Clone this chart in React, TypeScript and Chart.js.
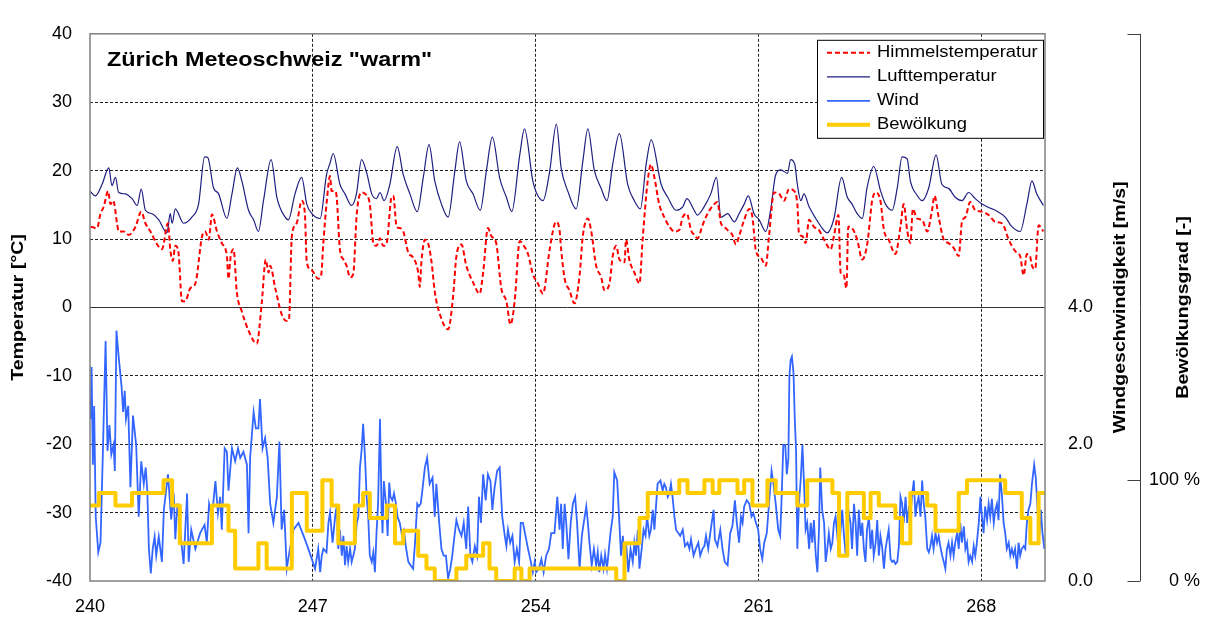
import React, { useEffect, useRef } from "react";
import { Chart, registerables } from "chart.js";

Chart.register(...registerables);

const FONT = "'Liberation Sans', Arial, Helvetica, sans-serif";

const CHART_TITLE = 'Zürich Meteoschweiz "warm"';
const TEMP_AXIS_TITLE = "Temperatur [°C]";
const WIND_AXIS_TITLE = "Windgeschwindigkeit [m/s]";
const CLOUD_AXIS_TITLE = "Bewölkungsgrad [-]";
const SERIES_LABELS = ["Himmelstemperatur", "Lufttemperatur", "Wind", "Bewölkung"];

const X_TICKS = [240, 247, 254, 261, 268];
const TEMP_TICKS = [-40, -30, -20, -10, 0, 10, 20, 30, 40];
const WIND_TICKS = [0, 2, 4];
const CLOUD_TICKS = [0, 100];

// [day of year, °C]
const SKY_TEMP: [number, number][] = [
  [240.02, 11.8], [240.22, 11.6], [240.33, 13.7], [240.43, 14.7], [240.57, 17.0], [240.64, 15.1], [240.73, 15.6], [240.85, 12.3],
  [240.9, 11.1], [241.06, 11.1], [241.22, 10.6], [241.43, 11.8], [241.61, 14.0], [241.74, 12.3], [241.9, 11.1], [242.11, 9.2],
  [242.26, 8.5], [242.45, 12.3], [242.52, 8.5], [242.6, 6.8], [242.68, 9.0], [242.78, 8.0], [242.89, 0.9], [242.99, 0.9],
  [243.15, 2.8], [243.31, 3.5], [243.52, 10.4], [243.62, 11.1], [243.73, 9.9], [243.83, 13.6], [243.99, 11.1], [244.14, 9.4],
  [244.3, 7.5], [244.35, 4.2], [244.42, 7.5], [244.51, 8.5], [244.61, 2.3], [244.77, -0.6], [244.98, -3.4], [245.24, -5.3],
  [245.4, 0.9], [245.52, 7.0], [245.61, 5.1], [245.66, 6.1], [245.82, 2.8], [246.02, -1.0], [246.18, -2.0], [246.25, -1.8],
  [246.34, 10.4], [246.49, 12.3], [246.65, 15.6], [246.75, 13.7], [246.81, 6.6], [246.97, 5.4], [247.17, 4.2], [247.26, 4.7],
  [247.33, 9.4], [247.44, 15.6], [247.54, 19.2], [247.59, 17.0], [247.7, 17.0], [247.75, 16.1], [247.85, 8.5], [247.96, 7.0],
  [248.06, 6.1], [248.17, 4.4], [248.27, 4.9], [248.38, 13.7], [248.53, 16.8], [248.64, 16.6], [248.79, 15.1], [248.9, 9.4],
  [249.0, 9.0], [249.11, 10.1], [249.21, 9.0], [249.32, 9.4], [249.47, 16.1], [249.53, 16.3], [249.63, 11.8], [249.73, 11.6],
  [249.84, 11.1], [250.0, 8.0], [250.15, 7.3], [250.31, 5.1], [250.36, 3.0], [250.41, 6.6], [250.52, 9.9], [250.62, 9.4],
  [250.73, 6.6], [250.83, 2.3], [250.99, -1.0], [251.25, -3.2], [251.41, 1.8], [251.51, 7.5], [251.67, 9.2], [251.82, 6.1],
  [252.03, 3.7], [252.24, 2.0], [252.35, 5.1], [252.5, 11.6], [252.61, 10.4], [252.76, 9.4], [252.92, 2.8], [253.08, 0.9],
  [253.21, -2.5], [253.34, 0.9], [253.5, 9.7], [253.6, 9.2], [253.76, 7.8], [253.91, 4.9], [254.07, 3.5], [254.23, 2.0],
  [254.44, 8.5], [254.64, 12.5], [254.75, 11.3], [254.8, 8.5], [254.91, 4.2], [255.06, 2.5], [255.22, 0.6], [255.38, 4.7],
  [255.48, 10.4], [255.64, 13.0], [255.74, 11.3], [255.9, 6.1], [256.06, 4.4], [256.16, 2.5], [256.32, 3.5], [256.42, 7.5],
  [256.53, 9.0], [256.63, 7.0], [256.79, 6.6], [256.84, 9.9], [256.94, 7.0], [257.1, 5.1], [257.26, 3.5], [257.36, 9.9],
  [257.52, 18.5], [257.62, 20.9], [257.73, 19.0], [257.88, 15.1], [258.04, 13.2], [258.2, 11.8], [258.36, 11.1], [258.51, 11.3],
  [258.62, 13.2], [258.75, 13.7], [258.88, 11.3], [258.98, 10.6], [259.09, 10.1], [259.24, 12.0], [259.4, 13.7], [259.61, 15.1],
  [259.71, 15.4], [259.82, 12.3], [259.92, 11.8], [260.03, 11.3], [260.18, 10.6], [260.29, 9.2], [260.39, 10.4], [260.55, 12.8],
  [260.71, 14.4], [260.81, 13.2], [260.92, 8.2], [261.07, 7.3], [261.23, 6.1], [261.33, 10.4], [261.49, 16.8], [261.65, 16.6],
  [261.8, 15.6], [261.96, 17.3], [262.12, 17.0], [262.22, 15.1], [262.27, 10.9], [262.38, 10.4], [262.48, 9.4], [262.59, 12.8],
  [262.74, 11.8], [262.9, 11.3], [263.06, 9.9], [263.27, 8.5], [263.37, 10.4], [263.51, 13.5], [263.58, 5.1], [263.68, 4.7],
  [263.76, 2.8], [263.82, 11.8], [263.94, 11.6], [264.1, 9.9], [264.26, 7.0], [264.42, 9.4], [264.57, 15.6], [264.68, 16.8],
  [264.83, 15.6], [264.94, 11.3], [265.09, 9.9], [265.3, 7.8], [265.46, 11.8], [265.56, 15.1], [265.67, 11.3], [265.77, 9.4],
  [265.85, 14.4], [265.98, 13.0], [266.14, 12.8], [266.3, 11.1], [266.45, 14.2], [266.53, 16.3], [266.66, 13.2], [266.82, 9.9],
  [266.97, 9.4], [267.13, 8.7], [267.29, 7.5], [267.39, 12.5], [267.5, 13.2], [267.65, 15.4], [267.81, 14.2], [268.02, 14.0],
  [268.23, 13.5], [268.44, 12.5], [268.65, 12.3], [268.86, 9.9], [269.07, 8.2], [269.22, 7.5], [269.33, 4.7], [269.43, 7.8],
  [269.53, 7.5], [269.59, 6.1], [269.69, 5.6], [269.8, 12.0], [269.95, 11.1],
];

// [day of year, °C]
const AIR_TEMP: [number, number][] = [
  [240.0, 17.0], [240.17, 16.3], [240.38, 18.0], [240.59, 20.4], [240.69, 17.8], [240.8, 19.0], [240.9, 16.8], [241.11, 16.6],
  [241.32, 15.9], [241.48, 14.9], [241.61, 17.3], [241.74, 14.2], [241.95, 13.7], [242.16, 12.8], [242.42, 10.9], [242.52, 13.7],
  [242.58, 12.3], [242.68, 14.4], [242.94, 12.3], [243.2, 13.2], [243.41, 15.1], [243.6, 22.0], [243.7, 21.9], [243.88, 17.5],
  [244.04, 16.6], [244.3, 13.0], [244.46, 16.6], [244.63, 20.4], [244.77, 18.5], [244.98, 14.2], [245.14, 12.8], [245.29, 11.1],
  [245.45, 15.6], [245.69, 21.6], [245.87, 16.1], [246.13, 13.2], [246.23, 12.8], [246.44, 16.6], [246.65, 19.0], [246.81, 15.1],
  [246.97, 13.7], [247.23, 13.0], [247.43, 19.4], [247.54, 21.1], [247.64, 22.5], [247.85, 18.0], [248.01, 16.6], [248.22, 14.9],
  [248.37, 16.6], [248.53, 21.6], [248.69, 19.7], [248.85, 16.6], [249.0, 15.9], [249.11, 16.8], [249.24, 15.6], [249.42, 18.0],
  [249.65, 23.5], [249.84, 19.4], [250.05, 16.6], [250.28, 14.0], [250.47, 19.0], [250.65, 23.8], [250.83, 18.5], [251.04, 15.1],
  [251.25, 13.2], [251.46, 19.9], [251.61, 24.2], [251.82, 18.5], [252.03, 16.6], [252.26, 14.2], [252.45, 19.9], [252.64, 24.9],
  [252.87, 18.9], [253.08, 16.1], [253.25, 14.0], [253.5, 22.3], [253.65, 26.1], [253.91, 18.5], [254.02, 16.8], [254.23, 15.6],
  [254.44, 19.9], [254.65, 26.8], [254.8, 20.4], [255.01, 17.0], [255.27, 14.4], [255.48, 21.3], [255.64, 26.1], [255.84, 20.1],
  [256.05, 17.5], [256.24, 15.6], [256.42, 20.9], [256.63, 25.4], [256.89, 18.0], [257.1, 15.6], [257.29, 14.4], [257.47, 20.9],
  [257.63, 24.5], [257.94, 18.0], [258.15, 16.1], [258.41, 14.2], [258.62, 14.7], [258.75, 15.9], [258.98, 14.2], [259.08, 13.5],
  [259.29, 14.7], [259.5, 16.6], [259.68, 19.0], [259.82, 13.2], [260.03, 13.7], [260.24, 12.5], [260.39, 13.7], [260.55, 15.1],
  [260.68, 16.3], [260.86, 13.7], [261.02, 12.8], [261.23, 11.1], [261.38, 14.2], [261.54, 19.4], [261.7, 20.1], [261.91, 19.6],
  [262.01, 21.6], [262.14, 20.9], [262.22, 18.0], [262.33, 15.6], [262.43, 16.6], [262.59, 14.7], [262.8, 13.0], [263.0, 11.6],
  [263.16, 10.9], [263.37, 13.0], [263.61, 19.0], [263.79, 16.1], [263.94, 15.1], [264.1, 13.7], [264.26, 13.0], [264.41, 17.5],
  [264.62, 20.6], [264.83, 17.1], [264.99, 15.1], [265.2, 14.2], [265.36, 17.5], [265.51, 22.0], [265.67, 21.7], [265.77, 18.5],
  [265.98, 16.4], [266.14, 15.6], [266.35, 17.5], [266.58, 22.3], [266.76, 18.0], [266.97, 17.4], [267.18, 16.1], [267.39, 15.6],
  [267.6, 16.8], [267.81, 15.9], [268.02, 15.1], [268.23, 14.6], [268.44, 14.2], [268.75, 13.2], [268.96, 11.8], [269.22, 11.1],
  [269.43, 15.1], [269.59, 18.5], [269.74, 16.6], [269.95, 14.9],
];

// [day of year, m/s]
const WIND_SPEED: [number, number][] = [
  [240.02, 2.37], [240.05, 3.13], [240.09, 1.7], [240.13, 2.56], [240.18, 0.94], [240.26, 0.42], [240.33, 0.56], [240.4, 1.8],
  [240.49, 3.51], [240.55, 1.9], [240.61, 2.28], [240.67, 1.85], [240.74, 1.99], [240.78, 1.61], [240.83, 3.66], [240.9, 3.28],
  [240.99, 2.85], [241.04, 2.47], [241.09, 2.78], [241.13, 2.37], [241.2, 2.56], [241.27, 1.37], [241.35, 2.42], [241.45, 1.99],
  [241.53, 0.94], [241.61, 1.75], [241.69, 1.42], [241.75, 1.66], [241.8, 1.32], [241.85, 0.47], [241.91, 0.11], [241.97, 0.47],
  [242.03, 0.65], [242.08, 0.37], [242.16, 0.65], [242.26, 0.28], [242.32, 1.04], [242.45, 1.56], [242.55, 0.9], [242.63, 1.28],
  [242.68, 0.61], [242.75, 1.13], [242.85, 0.66], [242.94, 0.25], [243.05, 1.28], [243.1, 0.28], [243.18, 0.75], [243.31, 0.47],
  [243.46, 0.7], [243.6, 0.82], [243.67, 0.56], [243.74, 1.13], [243.83, 0.94], [243.94, 1.46], [244.02, 0.99], [244.09, 1.23],
  [244.14, 0.75], [244.23, 1.94], [244.3, 1.89], [244.35, 1.32], [244.46, 1.94], [244.56, 1.75], [244.65, 1.94], [244.72, 1.8],
  [244.82, 1.89], [244.93, 1.7], [244.98, 0.7], [245.03, 1.8], [245.14, 2.47], [245.21, 2.23], [245.29, 2.23], [245.34, 2.66],
  [245.42, 1.94], [245.5, 2.09], [245.58, 1.8], [245.66, 1.13], [245.76, 0.85], [245.87, 1.23], [245.95, 2.04], [246.02, 0.75],
  [246.1, 1.04], [246.18, 0.18], [246.28, 0.47], [246.39, 0.75], [246.55, 0.85], [246.71, 0.66], [246.86, 0.47], [247.07, 0.18],
  [247.17, 0.47], [247.23, 0.13], [247.28, 0.37], [247.33, 0.47], [247.43, 0.42], [247.49, 0.85], [247.54, 1.0], [247.62, 0.56],
  [247.7, 0.94], [247.75, 1.09], [247.8, 0.47], [247.85, 0.75], [247.91, 0.37], [247.96, 0.66], [248.01, 0.23], [248.06, 0.51],
  [248.11, 0.28], [248.17, 0.47], [248.22, 0.28], [248.27, 0.37], [248.32, 0.47], [248.38, 0.85], [248.43, 0.94], [248.48, 1.66],
  [248.53, 1.9], [248.58, 2.3], [248.64, 1.8], [248.69, 1.23], [248.74, 0.94], [248.79, 0.37], [248.85, 0.28], [248.9, 0.42],
  [248.95, 0.13], [249.0, 0.7], [249.05, 1.13], [249.11, 2.37], [249.16, 1.04], [249.19, 0.7], [249.23, 1.46], [249.3, 1.13],
  [249.35, 0.66], [249.4, 1.44], [249.44, 1.23], [249.5, 1.18], [249.55, 1.28], [249.61, 1.13], [249.66, 0.94], [249.73, 0.85],
  [249.79, 0.7], [249.86, 0.75], [249.92, 0.51], [250.0, 0.28], [250.07, 0.23], [250.15, 0.18], [250.21, 0.56], [250.28, 1.13],
  [250.33, 1.09], [250.39, 1.13], [250.44, 1.32], [250.52, 1.66], [250.59, 1.8], [250.67, 1.42], [250.76, 1.51], [250.83, 0.94],
  [250.88, 1.42], [250.97, 0.85], [251.04, 0.47], [251.11, 0.37], [251.18, 0.37], [251.25, 0.04], [251.32, 0.18], [251.38, 0.37],
  [251.46, 0.7], [251.51, 0.89], [251.59, 0.75], [251.67, 0.66], [251.74, 0.85], [251.82, 0.47], [251.88, 1.09], [251.95, 0.37],
  [252.01, 0.28], [252.09, 0.51], [252.16, 0.37], [252.22, 1.23], [252.28, 0.85], [252.35, 1.56], [252.43, 1.18], [252.5, 1.56],
  [252.58, 1.46], [252.64, 1.04], [252.71, 1.37], [252.79, 1.61], [252.87, 1.66], [252.95, 0.94], [253.03, 0.66], [253.08, 0.51],
  [253.13, 0.75], [253.2, 0.56], [253.27, 0.66], [253.34, 0.28], [253.41, 0.47], [253.48, 0.28], [253.53, 0.85], [253.6, 0.85],
  [253.68, 0.66], [253.76, 0.47], [253.83, 0.32], [253.91, 0.13], [253.97, 0.28], [254.02, 0.13], [254.1, 0.18], [254.18, 0.32],
  [254.25, 0.13], [254.33, 0.37], [254.42, 0.47], [254.49, 0.7], [254.59, 0.7], [254.68, 1.23], [254.75, 0.75], [254.8, 1.13],
  [254.85, 0.47], [254.91, 1.13], [254.96, 0.85], [255.03, 0.32], [255.1, 0.85], [255.17, 1.13], [255.24, 1.23], [255.3, 0.85],
  [255.38, 0.18], [255.45, 0.66], [255.51, 0.85], [255.59, 1.09], [255.64, 0.85], [255.69, 0.56], [255.76, 0.23], [255.83, 0.47],
  [255.9, 0.23], [255.95, 0.42], [256.0, 0.13], [256.06, 0.37], [256.13, 0.18], [256.18, 0.39], [256.24, 0.18], [256.3, 0.47],
  [256.35, 0.7], [256.42, 0.94], [256.47, 1.59], [256.56, 1.47], [256.63, 0.85], [256.68, 0.37], [256.74, 0.66], [256.79, 0.18],
  [256.84, 0.56], [256.91, 0.13], [256.98, 0.47], [257.05, 0.28], [257.1, 0.56], [257.15, 0.37], [257.21, 0.75], [257.26, 0.18],
  [257.33, 0.47], [257.39, 0.75], [257.45, 0.66], [257.5, 0.94], [257.57, 0.66], [257.62, 0.75], [257.68, 1.04], [257.73, 0.75],
  [257.78, 1.09], [257.83, 1.42], [257.92, 1.47], [257.99, 1.32], [258.04, 1.42], [258.09, 1.37], [258.15, 1.23], [258.2, 1.28],
  [258.25, 1.42], [258.3, 1.23], [258.36, 0.94], [258.41, 0.75], [258.48, 0.7], [258.54, 0.66], [258.62, 0.75], [258.69, 0.51],
  [258.77, 0.56], [258.83, 0.47], [258.88, 0.61], [258.96, 0.37], [259.03, 0.47], [259.11, 0.56], [259.17, 0.37], [259.24, 0.47],
  [259.3, 0.51], [259.35, 0.66], [259.42, 0.47], [259.5, 0.75], [259.59, 1.04], [259.63, 0.61], [259.71, 0.51], [259.8, 0.75],
  [259.87, 0.47], [259.94, 0.28], [260.03, 0.23], [260.11, 0.7], [260.18, 0.8], [260.26, 1.18], [260.32, 0.85], [260.39, 0.56],
  [260.45, 0.94], [260.5, 0.85], [260.55, 1.09], [260.63, 1.18], [260.71, 1.13], [260.78, 0.94], [260.84, 0.99], [260.92, 0.85],
  [260.99, 0.75], [261.05, 0.47], [261.12, 0.32], [261.18, 0.56], [261.26, 0.7], [261.33, 1.13], [261.41, 1.61], [261.47, 1.42],
  [261.54, 1.13], [261.62, 0.75], [261.68, 0.66], [261.72, 1.13], [261.78, 1.99], [261.84, 1.99], [261.89, 1.56], [261.94, 1.8],
  [261.97, 2.99], [262.01, 3.23], [262.05, 3.28], [262.1, 3.04], [262.14, 2.37], [262.18, 1.9], [262.22, 0.47], [262.27, 1.13],
  [262.33, 1.51], [262.38, 1.99], [262.43, 1.42], [262.48, 0.75], [262.53, 0.85], [262.59, 0.47], [262.64, 0.85], [262.69, 0.56],
  [262.74, 0.89], [262.8, 0.37], [262.85, 0.13], [262.9, 0.75], [262.94, 1.66], [263.0, 1.04], [263.06, 0.85], [263.11, 0.28],
  [263.16, 0.47], [263.21, 0.7], [263.27, 0.47], [263.32, 0.56], [263.37, 0.85], [263.42, 0.94], [263.47, 0.7], [263.53, 0.37],
  [263.58, 0.75], [263.63, 1.04], [263.68, 0.7], [263.74, 0.37], [263.79, 0.66], [263.84, 0.99], [263.89, 0.85], [263.94, 0.47],
  [264.0, 1.13], [264.05, 0.85], [264.1, 0.37], [264.15, 1.04], [264.21, 0.66], [264.26, 0.85], [264.31, 0.47], [264.36, 0.28],
  [264.41, 0.75], [264.47, 0.94], [264.52, 0.47], [264.57, 0.75], [264.62, 0.37], [264.68, 0.56], [264.73, 0.89], [264.78, 0.37],
  [264.83, 0.66], [264.88, 0.51], [264.94, 0.18], [264.99, 0.47], [265.04, 0.61], [265.09, 0.75], [265.15, 0.32], [265.2, 0.28],
  [265.25, 0.3], [265.3, 0.25], [265.36, 0.28], [265.41, 0.51], [265.46, 1.23], [265.51, 1.13], [265.56, 0.85], [265.62, 1.23],
  [265.67, 0.85], [265.72, 1.04], [265.77, 0.94], [265.82, 1.23], [265.88, 1.47], [265.93, 0.94], [265.98, 1.13], [266.03, 1.23],
  [266.09, 0.94], [266.14, 1.47], [266.19, 1.13], [266.24, 0.94], [266.3, 0.47], [266.35, 0.42], [266.4, 0.51], [266.45, 0.66],
  [266.5, 0.47], [266.56, 0.7], [266.61, 0.56], [266.66, 0.66], [266.71, 0.51], [266.77, 0.37], [266.82, 0.28], [266.87, 0.18],
  [266.92, 0.47], [266.97, 0.56], [267.03, 0.37], [267.08, 0.56], [267.13, 0.37], [267.18, 0.56], [267.24, 0.7], [267.29, 0.47],
  [267.34, 0.85], [267.39, 0.56], [267.45, 0.8], [267.5, 0.47], [267.55, 0.56], [267.6, 0.28], [267.65, 0.37], [267.71, 0.28],
  [267.76, 0.51], [267.81, 0.37], [267.86, 0.56], [267.92, 0.85], [267.97, 1.23], [268.02, 0.94], [268.07, 0.7], [268.12, 1.09],
  [268.18, 0.89], [268.23, 1.13], [268.28, 0.94], [268.33, 1.2], [268.39, 0.85], [268.44, 1.04], [268.49, 1.13], [268.54, 0.89],
  [268.59, 1.56], [268.65, 1.23], [268.7, 0.85], [268.75, 0.7], [268.8, 0.47], [268.86, 0.56], [268.91, 0.37], [268.96, 0.47],
  [269.01, 0.37], [269.06, 0.47], [269.12, 0.18], [269.17, 0.56], [269.22, 0.37], [269.27, 0.47], [269.33, 0.51], [269.38, 0.47],
  [269.43, 0.85], [269.48, 1.04], [269.54, 1.13], [269.59, 1.42], [269.66, 1.7], [269.71, 1.51], [269.78, 0.94], [269.82, 0.66],
  [269.87, 1.04], [269.92, 0.7], [269.98, 0.47],
];

// [day of year at which the level starts, cloud cover %]
const CLOUD_COVER: [number, number][] = [
  [240.0, 75], [240.28, 87.5], [240.8, 75], [241.32, 87.5], [242.31, 100], [242.58, 75], [242.82, 37.5], [243.83, 75],
  [244.35, 50], [244.56, 12.5], [245.29, 37.5], [245.55, 12.5], [246.34, 87.5], [246.81, 50], [247.3, 100], [247.59, 75],
  [247.8, 37.5], [248.32, 75], [248.58, 87.5], [248.79, 62.5], [249.32, 75], [249.58, 37.5], [249.84, 50], [250.31, 25],
  [250.57, 12.5], [250.83, 0], [251.51, 12.5], [251.82, 25], [252.35, 37.5], [252.55, 12.5], [252.76, 0], [253.34, 12.5],
  [253.55, 0], [253.81, 12.5], [256.53, 0], [256.79, 37.5], [257.26, 62.5], [257.52, 87.5], [258.51, 100], [258.77, 87.5],
  [259.3, 100], [259.56, 87.5], [259.77, 100], [260.34, 87.5], [260.55, 100], [260.81, 75], [261.28, 100], [261.54, 87.5],
  [262.22, 75], [262.53, 100], [263.32, 87.5], [263.53, 25], [263.79, 87.5], [264.31, 62.5], [264.52, 87.5], [264.78, 75],
  [265.3, 62.5], [265.51, 37.5], [265.77, 87.5], [266.3, 75], [266.56, 50], [267.29, 87.5], [267.55, 100], [268.75, 87.5],
  [269.27, 62.5], [269.54, 37.5], [269.8, 87.5], [270.0, 87.5],
];

const toXY = (arr: [number, number][]) => arr.map(([x, y]) => ({ x, y }));

function drawText(ctx: any, text: string, x: number, y: number, font: string, sx: number, align: string, rot: number) {
  ctx.save();
  ctx.translate(x, y);
  if (rot) ctx.rotate(rot);
  ctx.scale(sx, 1);
  ctx.font = font;
  ctx.textAlign = align;
  ctx.textBaseline = "middle";
  ctx.fillStyle = "#000";
  ctx.fillText(text, 0, 0);
  ctx.restore();
}

const decorPlugin = {
  id: "decor",
  afterDatasetsDraw(chart: any) {
    const { ctx, chartArea: a, scales } = chart;
    const midY = (a.top + a.bottom) / 2;

    // plot frame
    ctx.save();
    ctx.strokeStyle = "#808080";
    ctx.lineWidth = 1.5;
    ctx.strokeRect(a.left, a.top, a.right - a.left, a.bottom - a.top);
    ctx.restore();

    // chart title inside the plot
    drawText(ctx, CHART_TITLE, a.left + 17, a.top + 27, `bold 20px ${FONT}`, 1.17, "left", 0);

    // legend
    const lw = 226, lh = 98;
    const lx = a.right - 228, ly = a.top + 6;
    ctx.save();
    ctx.fillStyle = "#fff";
    ctx.fillRect(lx, ly, lw, lh);
    ctx.strokeStyle = "#000";
    ctx.lineWidth = 1;
    ctx.strokeRect(lx + 0.5, ly + 0.5, lw, lh);
    ctx.restore();
    chart.data.datasets.forEach((ds: any, i: number) => {
      const ry = ly + 13 + i * 24;
      ctx.save();
      ctx.strokeStyle = ds.borderColor;
      ctx.lineWidth = ds.borderWidth;
      ctx.setLineDash(ds.borderDash || []);
      ctx.beginPath();
      ctx.moveTo(lx + 10, ry);
      ctx.lineTo(lx + 53, ry);
      ctx.stroke();
      ctx.restore();
      drawText(ctx, ds.label, lx + 60, ry, `16px ${FONT}`, 1.15, "left", 0);
    });

    // cloud axis line with outward stubs
    const y3 = scales.y3;
    const ax = Math.round(y3.left) + 0.5;
    ctx.save();
    ctx.strokeStyle = "#404040";
    ctx.lineWidth = 1;
    ctx.beginPath();
    ctx.moveTo(ax, a.top);
    ctx.lineTo(ax, a.bottom);
    [...CLOUD_TICKS.map((v) => y3.getPixelForValue(v)), a.top].forEach((py: number) => {
      const yy = Math.round(py) + 0.5;
      ctx.moveTo(ax - 13, yy);
      ctx.lineTo(ax, yy);
    });
    ctx.stroke();
    ctx.restore();

    // axis titles
    drawText(ctx, TEMP_AXIS_TITLE, 18, midY, `bold 17px ${FONT}`, 1.15, "center", -Math.PI / 2);
    drawText(ctx, WIND_AXIS_TITLE, scales.y2.left + 75, midY, `bold 17px ${FONT}`, 1.15, "center", -Math.PI / 2);
    drawText(ctx, CLOUD_AXIS_TITLE, y3.left + 43, midY, `bold 17px ${FONT}`, 1.15, "center", -Math.PI / 2);
  },
};

export default function App() {
  const ref = useRef<HTMLCanvasElement | null>(null);

  useEffect(() => {
    if (!ref.current) return;
    Chart.defaults.font.family = FONT;
    Chart.defaults.color = "#000";
    const tickFont = { size: 18, family: FONT };
    const transparent = "rgba(0,0,0,0)";

    const chart = new Chart(ref.current, {
      type: "line",
      data: {
        datasets: [
          {
            label: SERIES_LABELS[0],
            data: toXY(SKY_TEMP),
            yAxisID: "y",
            borderColor: "#ff0000",
            borderWidth: 2,
            borderDash: [5, 3],
            pointRadius: 0,
            cubicInterpolationMode: "monotone",
            order: 0,
          },
          {
            label: SERIES_LABELS[1],
            data: toXY(AIR_TEMP),
            yAxisID: "y",
            borderColor: "#1f1f80",
            borderWidth: 1.2,
            pointRadius: 0,
            cubicInterpolationMode: "monotone",
            order: 1,
          },
          {
            label: SERIES_LABELS[2],
            data: toXY(WIND_SPEED),
            yAxisID: "y2",
            borderColor: "#3366ff",
            borderWidth: 1.8,
            pointRadius: 0,
            tension: 0,
            order: 3,
          },
          {
            label: SERIES_LABELS[3],
            data: toXY(CLOUD_COVER),
            yAxisID: "y3",
            borderColor: "#ffcc00",
            borderWidth: 4,
            pointRadius: 0,
            stepped: true,
            borderJoinStyle: "round",
            order: 2,
          },
        ] as any,
      },
      options: {
        animation: false,
        responsive: false,
        maintainAspectRatio: false,
        layout: { padding: { top: 21, left: 0, right: 9, bottom: 0 } },
        plugins: { legend: { display: false }, tooltip: { enabled: false } },
        scales: {
          x: {
            type: "linear",
            position: "bottom",
            min: 240,
            max: 270,
            afterBuildTicks: (s: any) => {
              s.ticks = X_TICKS.map((v) => ({ value: v }));
            },
            afterFit: (s: any) => {
              s.height = 41;
            },
            grid: {
              color: (c: any) => (c.tick && c.tick.value === 240 ? transparent : "#222"),
              lineWidth: 1,
              drawTicks: false,
            },
            border: { display: false, dash: [3, 2] },
            ticks: { padding: 15, font: tickFont, color: "#000", maxRotation: 0, autoSkip: false },
          },
          y: {
            position: "left",
            min: -40,
            max: 40,
            afterBuildTicks: (s: any) => {
              s.ticks = TEMP_TICKS.map((v) => ({ value: v }));
            },
            afterFit: (s: any) => {
              s.width = 90;
            },
            grid: {
              color: (c: any) =>
                c.tick && (c.tick.value === -40 || c.tick.value === 40) ? transparent : c.tick && c.tick.value === 0 ? "#333" : "#222",
              lineWidth: 1,
              drawTicks: false,
            },
            border: { display: false, dash: (c: any) => (c.tick && c.tick.value === 0 ? [] : [3, 2]) },
            ticks: { padding: 18, font: tickFont, color: "#000" },
          },
          y2: {
            position: "right",
            min: 0,
            max: 8,
            weight: 0,
            afterBuildTicks: (s: any) => {
              s.ticks = WIND_TICKS.map((v) => ({ value: v }));
            },
            afterFit: (s: any) => {
              s.width = 95;
            },
            grid: { display: false, drawTicks: false },
            border: { display: false },
            ticks: {
              padding: 23,
              font: tickFont,
              color: "#000",
              callback: (v: any) => Number(v).toFixed(1),
            },
          },
          y3: {
            position: "right",
            min: 0,
            max: 543.7,
            weight: 1,
            afterBuildTicks: (s: any) => {
              s.ticks = CLOUD_TICKS.map((v) => ({ value: v }));
            },
            afterFit: (s: any) => {
              s.width = 60;
            },
            grid: { display: false, drawTicks: false },
            border: { display: false },
            ticks: {
              padding: 0,
              crossAlign: "far",
              font: tickFont,
              color: "#000",
              callback: (v: any) => `${v} %`,
            },
          },
        } as any,
      },
      plugins: [decorPlugin],
    });
    return () => chart.destroy();
  }, []);

  return (
    <div style={{ position: "fixed", left: 0, top: 0, width: 1209, height: 622, background: "#fff" }}>
      <canvas ref={ref} width={1209} height={622} style={{ width: 1209, height: 622, display: "block" }} />
    </div>
  );
}
